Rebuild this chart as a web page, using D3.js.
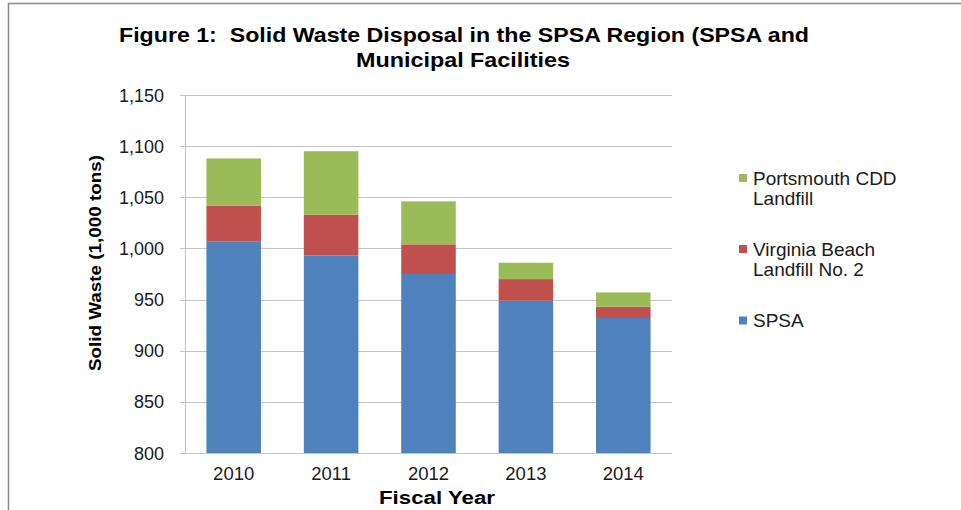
<!DOCTYPE html>
<html>
<head>
<meta charset="utf-8">
<script src="https://cdn.jsdelivr.net/npm/d3@7"></script>
<style>
  body { margin: 0; background: #fff; }
  svg { display: block; font-family: Arial, "Liberation Sans", sans-serif; }
</style>
</head>
<body>
<svg id="chart" width="961" height="510"></svg>
<script>
// values, thousands of tons
var years = ['2010', '2011', '2012', '2013', '2014'];
var spsa = [1007, 993, 975, 949, 932];
var virginiaBeach = [35, 40, 29, 21, 11];
var portsmouth = [46, 62, 42, 16, 14];
var yTicks = [800, 850, 900, 950, 1000, 1050, 1100, 1150];

var seriesNames = ['SPSA', 'Virginia Beach Landfill No. 2', 'Portsmouth CDD Landfill'];
var colors = ['#4f81bd', '#c0504d', '#9bbb59'];

var svg = d3.select('#chart');

// frame of the pasted picture (top and left edges only)
svg.append('path')
    .attr('d', 'M8.5,510 V3.5 H961')
    .attr('fill', 'none')
    .attr('stroke', '#8a8a8a')
    .attr('stroke-width', 1.5);

var x = d3.scaleBand().domain(years).range([185, 672])
    .paddingInner(0.44).paddingOuter(0.22);
var y = d3.scaleLinear().domain([800, 1150]).range([453, 95]);

// gridlines
svg.append('g').selectAll('line')
    .data(yTicks)
    .join('line')
    .attr('x1', 180).attr('x2', 672)
    .attr('y1', function(d) { return Math.round(y(d)) + 0.5; })
    .attr('y2', function(d) { return Math.round(y(d)) + 0.5; })
    .attr('stroke', '#c3c3c3')
    .attr('stroke-width', 1.2);

// stacked bars
var rows = years.map(function(yr, i) {
  return { year: yr, SPSA: spsa[i], 'Virginia Beach Landfill No. 2': virginiaBeach[i],
           'Portsmouth CDD Landfill': portsmouth[i] };
});
var layers = d3.stack().keys(seriesNames)(rows);

svg.append('g').selectAll('g')
    .data(layers)
    .join('g')
    .attr('fill', function(d, i) { return colors[i]; })
    .selectAll('rect')
    .data(function(d) { return d; })
    .join('rect')
    .attr('x', function(d) { return x(d.data.year); })
    .attr('width', x.bandwidth())
    .attr('y', function(d) { return y(d[1]); })
    // axis starts at 800, clip the base layer there
    .attr('height', function(d) { return y(Math.max(d[0], 800)) - y(d[1]); });

// y axis line
svg.append('line')
    .attr('x1', 185.5).attr('x2', 185.5)
    .attr('y1', y(1150)).attr('y2', y(800))
    .attr('stroke', '#c3c3c3')
    .attr('stroke-width', 1.2);

var fmt = d3.format(',');
svg.append('g').selectAll('text')
    .data(yTicks)
    .join('text')
    .attr('x', 164)
    .attr('y', function(d) { return y(d) + 6.5; })
    .attr('text-anchor', 'end')
    .attr('font-size', 18)
    .attr('fill', '#1a1a1a')
    .text(function(d) { return fmt(d); });

svg.append('g').selectAll('text')
    .data(years)
    .join('text')
    .attr('x', function(d) { return x(d) + x.bandwidth() / 2; })
    .attr('y', 480)
    .attr('text-anchor', 'middle')
    .attr('font-size', 18.5)
    .attr('fill', '#1a1a1a')
    .text(function(d) { return d; });

// titles (the source picture is a bit stretched sideways, so fit the widths)
svg.append('text')
    .attr('x', 464).attr('y', 42)
    .attr('text-anchor', 'middle')
    .attr('font-size', 21).attr('font-weight', 'bold')
    .attr('textLength', 690).attr('lengthAdjust', 'spacingAndGlyphs')
    .style('white-space', 'pre')
    .text('Figure 1:  Solid Waste Disposal in the SPSA Region (SPSA and');
svg.append('text')
    .attr('x', 463).attr('y', 67)
    .attr('text-anchor', 'middle')
    .attr('font-size', 21).attr('font-weight', 'bold')
    .attr('textLength', 214).attr('lengthAdjust', 'spacingAndGlyphs')
    .text('Municipal Facilities');

svg.append('text')
    .attr('transform', 'translate(101,263) rotate(-90)')
    .attr('text-anchor', 'middle')
    .attr('font-size', 16.5).attr('font-weight', 'bold')
    .attr('textLength', 216).attr('lengthAdjust', 'spacingAndGlyphs')
    .text('Solid Waste (1,000 tons)');

svg.append('text')
    .attr('x', 437).attr('y', 504)
    .attr('text-anchor', 'middle')
    .attr('font-size', 17.5).attr('font-weight', 'bold')
    .attr('textLength', 116).attr('lengthAdjust', 'spacingAndGlyphs')
    .text('Fiscal Year');

// legend, top to bottom in reverse stack order
var legendItems = [
  { lines: ['Portsmouth CDD', 'Landfill'], color: colors[2], cy: 178 },
  { lines: ['Virginia Beach', 'Landfill No. 2'], color: colors[1], cy: 249 },
  { lines: ['SPSA'], color: colors[0], cy: 320.5 }
];
var lg = svg.append('g').selectAll('g')
    .data(legendItems)
    .join('g');
lg.append('rect')
    .attr('x', 739).attr('y', function(d) { return d.cy - 4; })
    .attr('width', 8).attr('height', 8)
    .attr('fill', function(d) { return d.color; });
lg.append('text')
    .attr('x', 753)
    .attr('font-size', 19)
    .attr('fill', '#1a1a1a')
    .selectAll('tspan')
    .data(function(d) { return d.lines.map(function(l, i) { return { t: l, y: d.cy + 6.5 + i * 20.5 }; }); })
    .join('tspan')
    .attr('x', 753)
    .attr('y', function(d) { return d.y; })
    .text(function(d) { return d.t; });
</script>
</body>
</html>
